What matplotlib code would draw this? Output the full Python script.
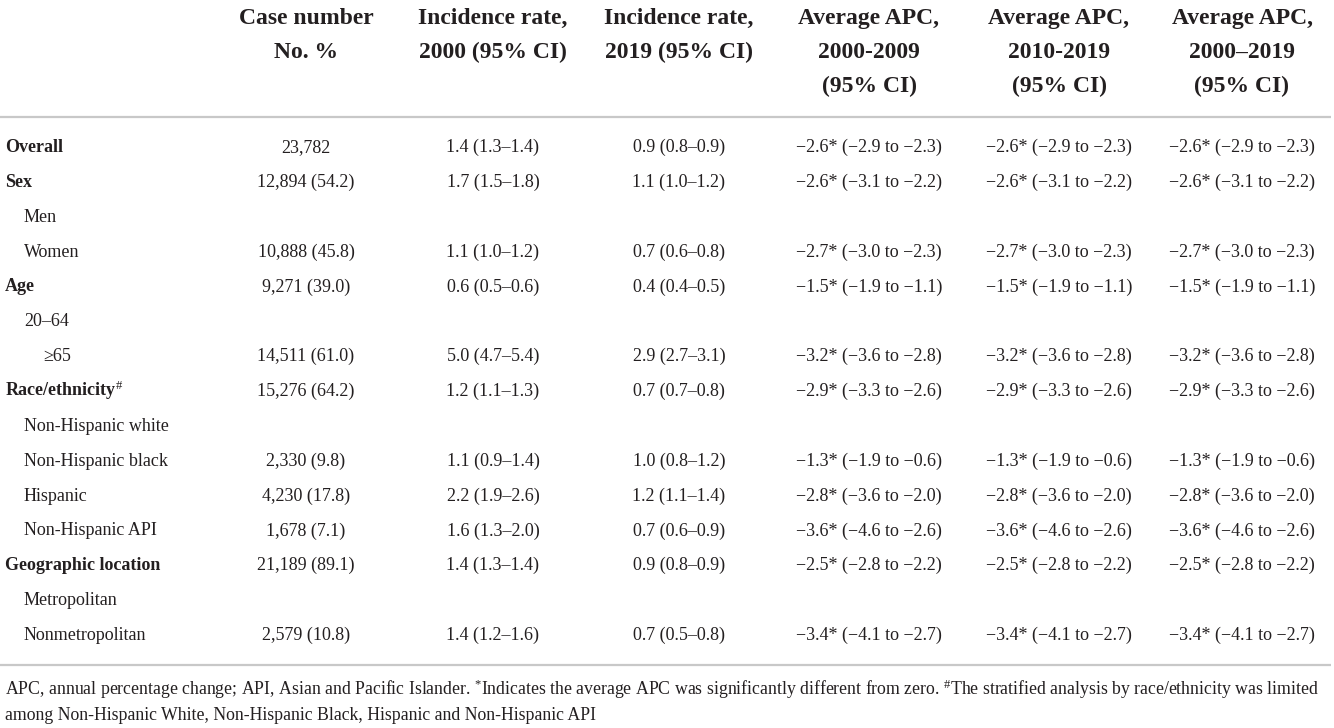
import matplotlib
matplotlib.use("Agg")
import matplotlib.pyplot as plt

plt.rcParams['font.family'] = ['Liberation Serif', 'DejaVu Serif']
plt.rcParams['mathtext.fontset'] = 'custom'
plt.rcParams['mathtext.rm'] = 'Liberation Serif'
plt.rcParams['mathtext.it'] = 'Liberation Serif:italic'
plt.rcParams['mathtext.bf'] = 'Liberation Serif:bold'

# table content
headers = ["Case number\nNo. %",
           "Incidence rate,\n2000 (95% CI)",
           "Incidence rate,\n2019 (95% CI)",
           "Average APC,\n2000-2009\n(95% CI)",
           "Average APC,\n2010-2019\n(95% CI)",
           "Average APC,\n2000\u20132019\n(95% CI)"]

labels = ["Overall", "Sex", "Men", "Women", "Age", "20\u201364", "\u226565",
          r"Race/ethnicity$^{\#}$", "Non-Hispanic white", "Non-Hispanic black",
          "Hispanic", "Non-Hispanic API", "Geographic location",
          "Metropolitan", "Nonmetropolitan"]
levels = [0, 0, 1, 1, 0, 1, 2, 0, 1, 1, 1, 1, 0, 1, 1]

cases = ["23,782", "12,894 (54.2)", "", "10,888 (45.8)", "9,271 (39.0)", "",
         "14,511 (61.0)", "15,276 (64.2)", "", "2,330 (9.8)", "4,230 (17.8)",
         "1,678 (7.1)", "21,189 (89.1)", "", "2,579 (10.8)"]
inc_2000 = ["1.4 (1.3\u20131.4)", "1.7 (1.5\u20131.8)", "", "1.1 (1.0\u20131.2)",
            "0.6 (0.5\u20130.6)", "", "5.0 (4.7\u20135.4)", "1.2 (1.1\u20131.3)", "",
            "1.1 (0.9\u20131.4)", "2.2 (1.9\u20132.6)", "1.6 (1.3\u20132.0)",
            "1.4 (1.3\u20131.4)", "", "1.4 (1.2\u20131.6)"]
inc_2019 = ["0.9 (0.8\u20130.9)", "1.1 (1.0\u20131.2)", "", "0.7 (0.6\u20130.8)",
            "0.4 (0.4\u20130.5)", "", "2.9 (2.7\u20133.1)", "0.7 (0.7\u20130.8)", "",
            "1.0 (0.8\u20131.2)", "1.2 (1.1\u20131.4)", "0.7 (0.6\u20130.9)",
            "0.9 (0.8\u20130.9)", "", "0.7 (0.5\u20130.8)"]
apc_2000_2009 = ["\u22122.6* (\u22122.9 to \u22122.3)", "\u22122.6* (\u22123.1 to \u22122.2)", "",
                 "\u22122.7* (\u22123.0 to \u22122.3)", "\u22121.5* (\u22121.9 to \u22121.1)", "",
                 "\u22123.2* (\u22123.6 to \u22122.8)", "\u22122.9* (\u22123.3 to \u22122.6)", "",
                 "\u22121.3* (\u22121.9 to \u22120.6)", "\u22122.8* (\u22123.6 to \u22122.0)",
                 "\u22123.6* (\u22124.6 to \u22122.6)", "\u22122.5* (\u22122.8 to \u22122.2)", "",
                 "\u22123.4* (\u22124.1 to \u22122.7)"]
apc_2010_2019 = list(apc_2000_2009)   # same values printed in the source table
apc_2000_2019 = list(apc_2000_2009)

footnote = [r"APC, annual percentage change; API, Asian and Pacific Islander. $^{*}$Indicates the average "
            r"APC was significantly different from zero. $^{\#}$The stratified analysis by race/ethnicity was limited",
            "among Non-Hispanic White, Non-Hispanic Black, Hispanic and Non-Hispanic API"]

columns = [cases, inc_2000, inc_2019, apc_2000_2009, apc_2010_2019, apc_2000_2019]

W, H = 1334, 728
fig = plt.figure(figsize=(W / 100, H / 100), dpi=100)
ax = fig.add_axes([0, 0, 1, 1])
ax.set_xlim(0, W); ax.set_ylim(H, 0); ax.axis("off")

ink = "#231f20"
col_x = [306, 493, 679, 869, 1059, 1242]
head_y0, head_dy = 16, 33.8
row_y0, row_dy = 146, 34.86
indent = [5, 24, 43]

for x, h in zip(col_x, headers):
    for k, line in enumerate(h.split("\n")):
        ax.text(x, head_y0 + head_dy * k + 8, line, ha="center", va="baseline",
                fontsize=17, fontweight="bold", color=ink)

ax.plot([0, 1331], [117, 117], color="#c8c8c8", lw=1.6, solid_capstyle="butt")
ax.plot([0, 1331], [665, 665], color="#c8c8c8", lw=1.6, solid_capstyle="butt")

for i, (lab, lev) in enumerate(zip(labels, levels)):
    y = row_y0 + row_dy * i + 6
    ax.text(indent[lev], y, lab, ha="left", va="baseline", fontsize=13,
            fontweight="bold" if lev == 0 else "normal", color=ink)
    for x, col in zip(col_x, columns):
        if col[i]:
            ax.text(x, y, col[i], ha="center", va="baseline", fontsize=13, color=ink)

# footnote, first line sized to span the table width
r = fig.canvas.get_renderer()
fs = 11.5
t = ax.text(5, 695, footnote[0], ha="left", va="baseline", fontsize=fs, color=ink)
w = t.get_window_extent(renderer=r).width
fs = fs * 1320 / w
t.set_fontsize(fs)
ax.text(5, 720, footnote[1], ha="left", va="baseline", fontsize=fs, color=ink)

fig.savefig("out.png", dpi=100)
